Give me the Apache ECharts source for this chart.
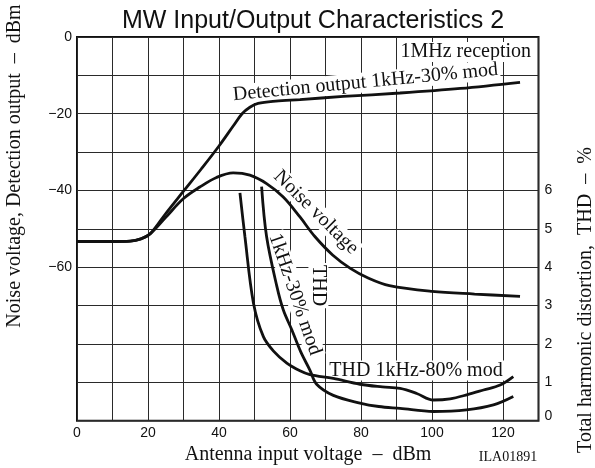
<!DOCTYPE html>
<html>
<head>
<meta charset="utf-8">
<script src="https://cdn.jsdelivr.net/npm/echarts@6/dist/echarts.min.js"></script>
<style>
  html, body { margin: 0; padding: 0; background: #fff; }
  #main { width: 595px; height: 468px; }
</style>
</head>
<body>
<div id="main"></div>
<script>
// antenna input (dBm) vs output
const detectionX = [0, 10, 15, 18, 20.6, 25, 30, 35, 40, 44, 46.5, 48.7, 51, 56, 62.8, 75, 91, 108, 124.8];
const detectionY = [-53.3, -53.3, -53.2, -52.6, -51.3, -46, -40.2, -34.4, -28.4, -23.2, -20, -18.3, -17.3, -16.7, -16.3, -15.5, -14.6, -13.4, -11.8];

const noiseX = [0, 10, 15, 18, 20.6, 25, 30, 34.6, 39.3, 44, 48.7, 53.4, 58.1, 62.8, 67, 72, 77, 82, 88, 100, 112, 124.8];
const noiseY = [-53.3, -53.3, -53.2, -52.6, -51.3, -47, -42.1, -39.1, -36.6, -35.4, -36, -38.2, -41.7, -46.9, -52, -56.8, -60.3, -62.8, -64.8, -66.3, -67, -67.6];

// THD in %
const thd80X = [45.9, 47.3, 49.7, 52.5, 55.5, 59.1, 62.8, 65.6, 72.2, 79.7, 86, 91, 95.7, 100.4, 105.1, 110, 114.5, 119.2, 122.9];
const thd80Y = [5.94, 4.8, 3.07, 2.19, 1.8, 1.5, 1.3, 1.2, 1.1, 0.95, 0.88, 0.84, 0.71, 0.54, 0.57, 0.68, 0.8, 0.93, 1.15];

const thd30X = [52, 53.4, 56.3, 58.1, 60.5, 63, 65.6, 67.5, 72.2, 79.7, 85, 91, 100.4, 109.7, 117.3, 122.9];
const thd30Y = [6.1, 4.8, 3.5, 2.89, 2.37, 1.8, 1.32, 0.95, 0.66, 0.46, 0.37, 0.32, 0.24, 0.28, 0.41, 0.63];

const xTickLabels = [0, 20, 40, 60, 80, 100, 120];
const leftTickLabels = [0, -20, -40, -60];
const rightTickLabels = [0, 1, 2, 3, 4, 5, 6];

const SERIF = '"Liberation Serif", "DejaVu Serif", serif';
const SANS = '"Liberation Sans", Arial, sans-serif';
const INK = '#111';

const pairs = (xs, ys) => xs.map((x, i) => [x, ys[i]]);
const minus = (v) => String(v).replace('-', '\u2212');

const chart = echarts.init(document.getElementById('main'));

const lineSeries = (name, data, yAxisIndex) => ({
  name,
  type: 'line',
  data,
  yAxisIndex,
  smooth: 0.35,
  showSymbol: false,
  silent: true,
  lineStyle: { color: INK, width: 2.8 },
  z: 3,
});

chart.setOption({
  animation: false,
  title: {
    text: 'MW Input/Output Characteristics 2',
    left: 308,
    top: 4,
    textAlign: 'center',
    textStyle: { fontFamily: SANS, fontSize: 25, fontWeight: 'normal', color: INK },
  },
  grid: {
    left: 77,
    right: 56.5,
    top: 37,
    bottom: 47.3,
    show: true,
    borderColor: INK,
    borderWidth: 2,
  },
  xAxis: {
    type: 'value',
    min: 0,
    max: 130,
    interval: 10,
    axisLine: { show: false },
    axisTick: { show: false },
    splitLine: { lineStyle: { color: '#2a2a2a', width: 1 } },
    axisLabel: {
      margin: 5,
      fontFamily: SANS,
      fontSize: 14,
      color: INK,
      formatter: (v) => (xTickLabels.includes(v) ? String(v) : ''),
    },
  },
  yAxis: [
    {
      type: 'value',
      min: -100,
      max: 0,
      interval: 10,
      axisLine: { show: false },
      axisTick: { show: false },
      splitLine: { lineStyle: { color: '#2a2a2a', width: 1 } },
      axisLabel: {
        margin: 5,
        fontFamily: SANS,
        fontSize: 14,
        color: INK,
        formatter: (v) => (leftTickLabels.includes(v) ? minus(v) : ''),
      },
    },
    {
      type: 'value',
      min: 0,
      max: 10,
      interval: 1,
      position: 'right',
      axisLine: { show: false },
      axisTick: { show: false },
      splitLine: { show: false },
      axisLabel: {
        margin: 6,
        fontFamily: SANS,
        fontSize: 14,
        color: INK,
        formatter: (v) => (v === 0 ? '{z|0}' : rightTickLabels.includes(v) ? String(v) : ''),
        rich: { z: { fontFamily: SANS, fontSize: 14, color: INK, padding: [0, 0, 10, 0] } },
      },
    },
  ],
  series: [
    lineSeries('Detection output', pairs(detectionX, detectionY), 0),
    lineSeries('Noise voltage', pairs(noiseX, noiseY), 0),
    lineSeries('THD 1kHz-80% mod', pairs(thd80X, thd80Y), 1),
    lineSeries('THD 1kHz-30% mod', pairs(thd30X, thd30Y), 1),
  ],
});

// in-plot labels, anchored in data space (x, left axis dBm)
const notes = [
  { text: '1MHz reception', at: [128.45, -3.9], rot: 0, align: 'right' },
  { text: 'Detection output 1kHz-30% mod', at: [81.25, -11.8], rot: 0.096, align: 'center' },
  { text: 'Noise voltage', at: [67.3, -45.7], rot: -0.78, align: 'center' },
  { text: 'THD', at: [68, -64.8], rot: -Math.PI / 2, align: 'center' },
  { text: '1kHz-30% mod', at: [61.4, -67.1], rot: -1.24, align: 'center' },
  { text: 'THD 1kHz-80% mod', at: [95.5, -86.9], rot: 0, align: 'center' },
];

const textEl = (text, x, y, rot, align, size, bg) => ({
  type: 'text',
  x,
  y,
  rotation: rot,
  z: 1,
  silent: true,
  style: {
    text,
    fill: INK,
    font: size + 'px ' + SERIF,
    align,
    verticalAlign: 'middle',
    backgroundColor: bg ? '#fff' : undefined,
    padding: bg ? [0, 2] : 0,
  },
});

const graphics = notes.map((n) => {
  const [px, py] = chart.convertToPixel({ xAxisIndex: 0, yAxisIndex: 0 }, n.at);
  return textEl(n.text, px, py, n.rot, n.align, 20, true);
});

graphics.push(textEl('Noise voltage, Detection output  \u2013  dBm', 15, 166, Math.PI / 2, 'center', 20, false));
graphics.push(textEl('Total harmonic distortion,  THD  \u2013  %', 586, 300, Math.PI / 2, 'center', 20, false));
graphics.push(textEl('Antenna input voltage  \u2013  dBm', 308, 455, 0, 'center', 20, false));
graphics.push(textEl('ILA01891', 508, 457, 0, 'center', 14, false));

chart.setOption({ graphic: graphics });
</script>
</body>
</html>
